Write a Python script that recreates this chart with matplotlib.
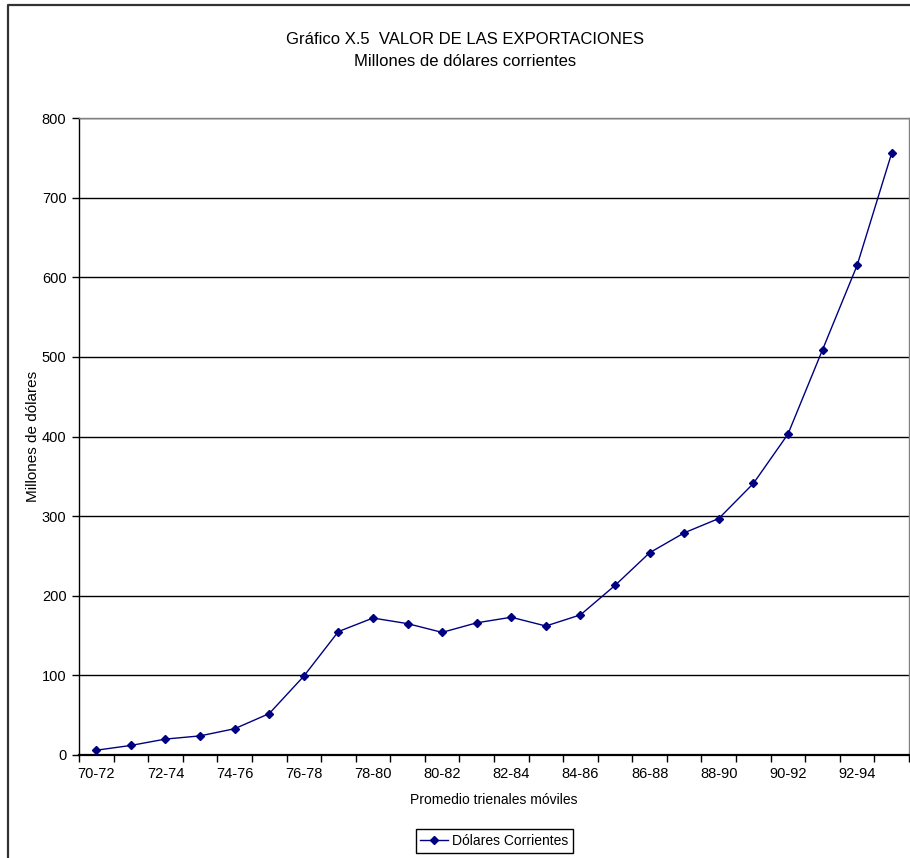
import matplotlib
matplotlib.use('Agg')
import matplotlib.pyplot as plt
from matplotlib.lines import Line2D

plt.rcParams['font.family'] = ['Liberation Sans', 'DejaVu Sans']

# categorias: promedios trienales moviles
periodos = ['70-72', '71-73', '72-74', '73-75', '74-76', '75-77', '76-78', '77-79',
            '78-80', '79-81', '80-82', '81-83', '82-84', '83-85', '84-86', '85-87',
            '86-88', '87-89', '88-90', '89-91', '90-92', '91-93', '92-94', '93-95']
# millones de dolares corrientes
dolares_corrientes = [6, 12, 20, 24, 33, 52, 99, 155, 172, 165, 154, 166,
                      173, 162, 176, 213, 254, 279, 297, 341, 403, 509, 615, 756]
y_ticks = [0, 100, 200, 300, 400, 500, 600, 700, 800]

W, H = 910, 858
fig = plt.figure(figsize=(W / 100, H / 100), dpi=100)
ax = fig.add_axes([79 / W, 1 - 755 / H, 830 / W, 637 / H])

x = list(range(len(periodos)))
ax.plot(x, dolares_corrientes, color='#000080', lw=1, marker='D', ms=4,
        mfc='#000080', mec='#000080', label='Dólares Corrientes', zorder=3)

ax.set_xlim(-0.5, len(periodos) - 0.5)
ax.set_ylim(0, 800)
ax.set_yticks(y_ticks)
ax.grid(axis='y', color='black', lw=1)
ax.set_axisbelow(True)

# ticks between categories, labels every second category
ax.set_xticks([i - 0.5 for i in range(len(periodos) + 1)])
ax.set_xticklabels([])
ax.set_xticks(x[::2], minor=True)
ax.set_xticklabels(periodos[::2], minor=True)
ax.tick_params(axis='x', which='major', length=5, width=1, color='black')
ax.tick_params(axis='x', which='minor', length=0, pad=9, labelsize=10.5)
ax.tick_params(axis='y', length=5, width=1, pad=4, labelsize=10.5)

for s in ['left', 'bottom']:
    ax.spines[s].set_color('black')
ax.spines['bottom'].set_linewidth(1.6)
ax.spines['left'].set_linewidth(1)
for s in ['top', 'right']:
    ax.spines[s].set_color('#808080')
    ax.spines[s].set_linewidth(1)

ax.set_xlabel('Promedio trienales móviles', fontsize=10, labelpad=8)
ax.set_ylabel('Millones de dólares', fontsize=11, labelpad=1)

fig.text(465 / W, 1 - 40 / H, 'Gráfico X.5  VALOR DE LAS EXPORTACIONES',
         ha='center', va='center', fontsize=12)
fig.text(465 / W, 1 - 61 / H, 'Millones de dólares corrientes',
         ha='center', va='center', fontsize=12)

leg = fig.legend(loc='center', bbox_to_anchor=(494.5 / W, 1 - 841 / H),
                 fontsize=10, fancybox=False, framealpha=1, edgecolor='black',
                 handlelength=2, borderpad=0.35, handletextpad=0.3)
leg.get_frame().set_linewidth(1)

# chart border
fig.add_artist(Line2D([8 / W, 8 / W, 1], [0, 1 - 5 / H, 1 - 5 / H],
                      transform=fig.transFigure, color='#333333', lw=1.6))

fig.savefig('out.png', dpi=100)
